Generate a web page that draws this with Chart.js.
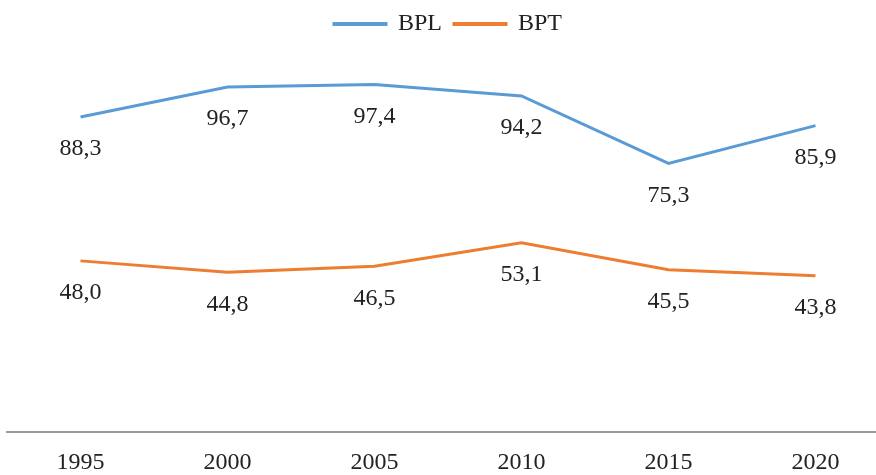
<!DOCTYPE html>
<html>
<head>
<meta charset="utf-8">
<script src="https://cdn.jsdelivr.net/npm/chart.js@4/dist/chart.umd.min.js"></script>
<style>
  html, body { margin: 0; padding: 0; background: #fff; overflow: hidden; }
  #wrap { width: 890px; height: 493px; position: relative; }
</style>
</head>
<body>
<div id="wrap"><canvas id="chart"></canvas></div>
<script>
var years = ['1995', '2000', '2005', '2010', '2015', '2020'];
var bpl = [88.3, 96.7, 97.4, 94.2, 75.3, 85.9];
var bpt = [48.0, 44.8, 46.5, 53.1, 45.5, 43.8];

var serif = '"Liberation Serif", serif';

// value labels under each point, comma decimal
var pointLabels = {
  id: 'pointLabels',
  afterDatasetsDraw: function (chart) {
    var ctx = chart.ctx;
    ctx.save();
    ctx.font = '24px ' + serif;
    ctx.fillStyle = '#222';
    ctx.textAlign = 'center';
    ctx.textBaseline = 'middle';
    chart.data.datasets.forEach(function (ds, i) {
      chart.getDatasetMeta(i).data.forEach(function (pt, j) {
        ctx.fillText(ds.data[j].toFixed(1).replace('.', ','), pt.x, pt.y + 32);
      });
    });
    ctx.restore();
  }
};

new Chart(document.getElementById('chart'), {
  type: 'line',
  data: {
    labels: years,
    datasets: [{
      label: 'BPL',
      data: bpl,
      borderColor: '#5B9BD5',
      backgroundColor: '#5B9BD5',
      borderWidth: 3,
      pointRadius: 0,
      tension: 0
    }, {
      label: 'BPT',
      data: bpt,
      borderColor: '#ED7D31',
      backgroundColor: '#ED7D31',
      borderWidth: 3,
      pointRadius: 0,
      tension: 0
    }]
  },
  options: {
    responsive: true,
    maintainAspectRatio: false,
    animation: false,
    layout: { padding: { left: 7, right: 1, top: 0, bottom: 0 } },
    plugins: {
      tooltip: { enabled: false },
      legend: {
        position: 'top',
        labels: {
          boxWidth: 52,
          boxHeight: 1,
          padding: 12,
          color: '#222',
          font: { family: serif, size: 24 }
        }
      }
    },
    scales: {
      x: {
        offset: true,
        grid: { display: false, drawTicks: false },
        border: { color: '#999', width: 2 },
        ticks: {
          padding: 16,
          color: '#222',
          font: { family: serif, size: 24 }
        }
      },
      y: {
        display: false,
        min: 0,
        max: 108.2
      }
    }
  },
  plugins: [pointLabels]
});
</script>
</body>
</html>
